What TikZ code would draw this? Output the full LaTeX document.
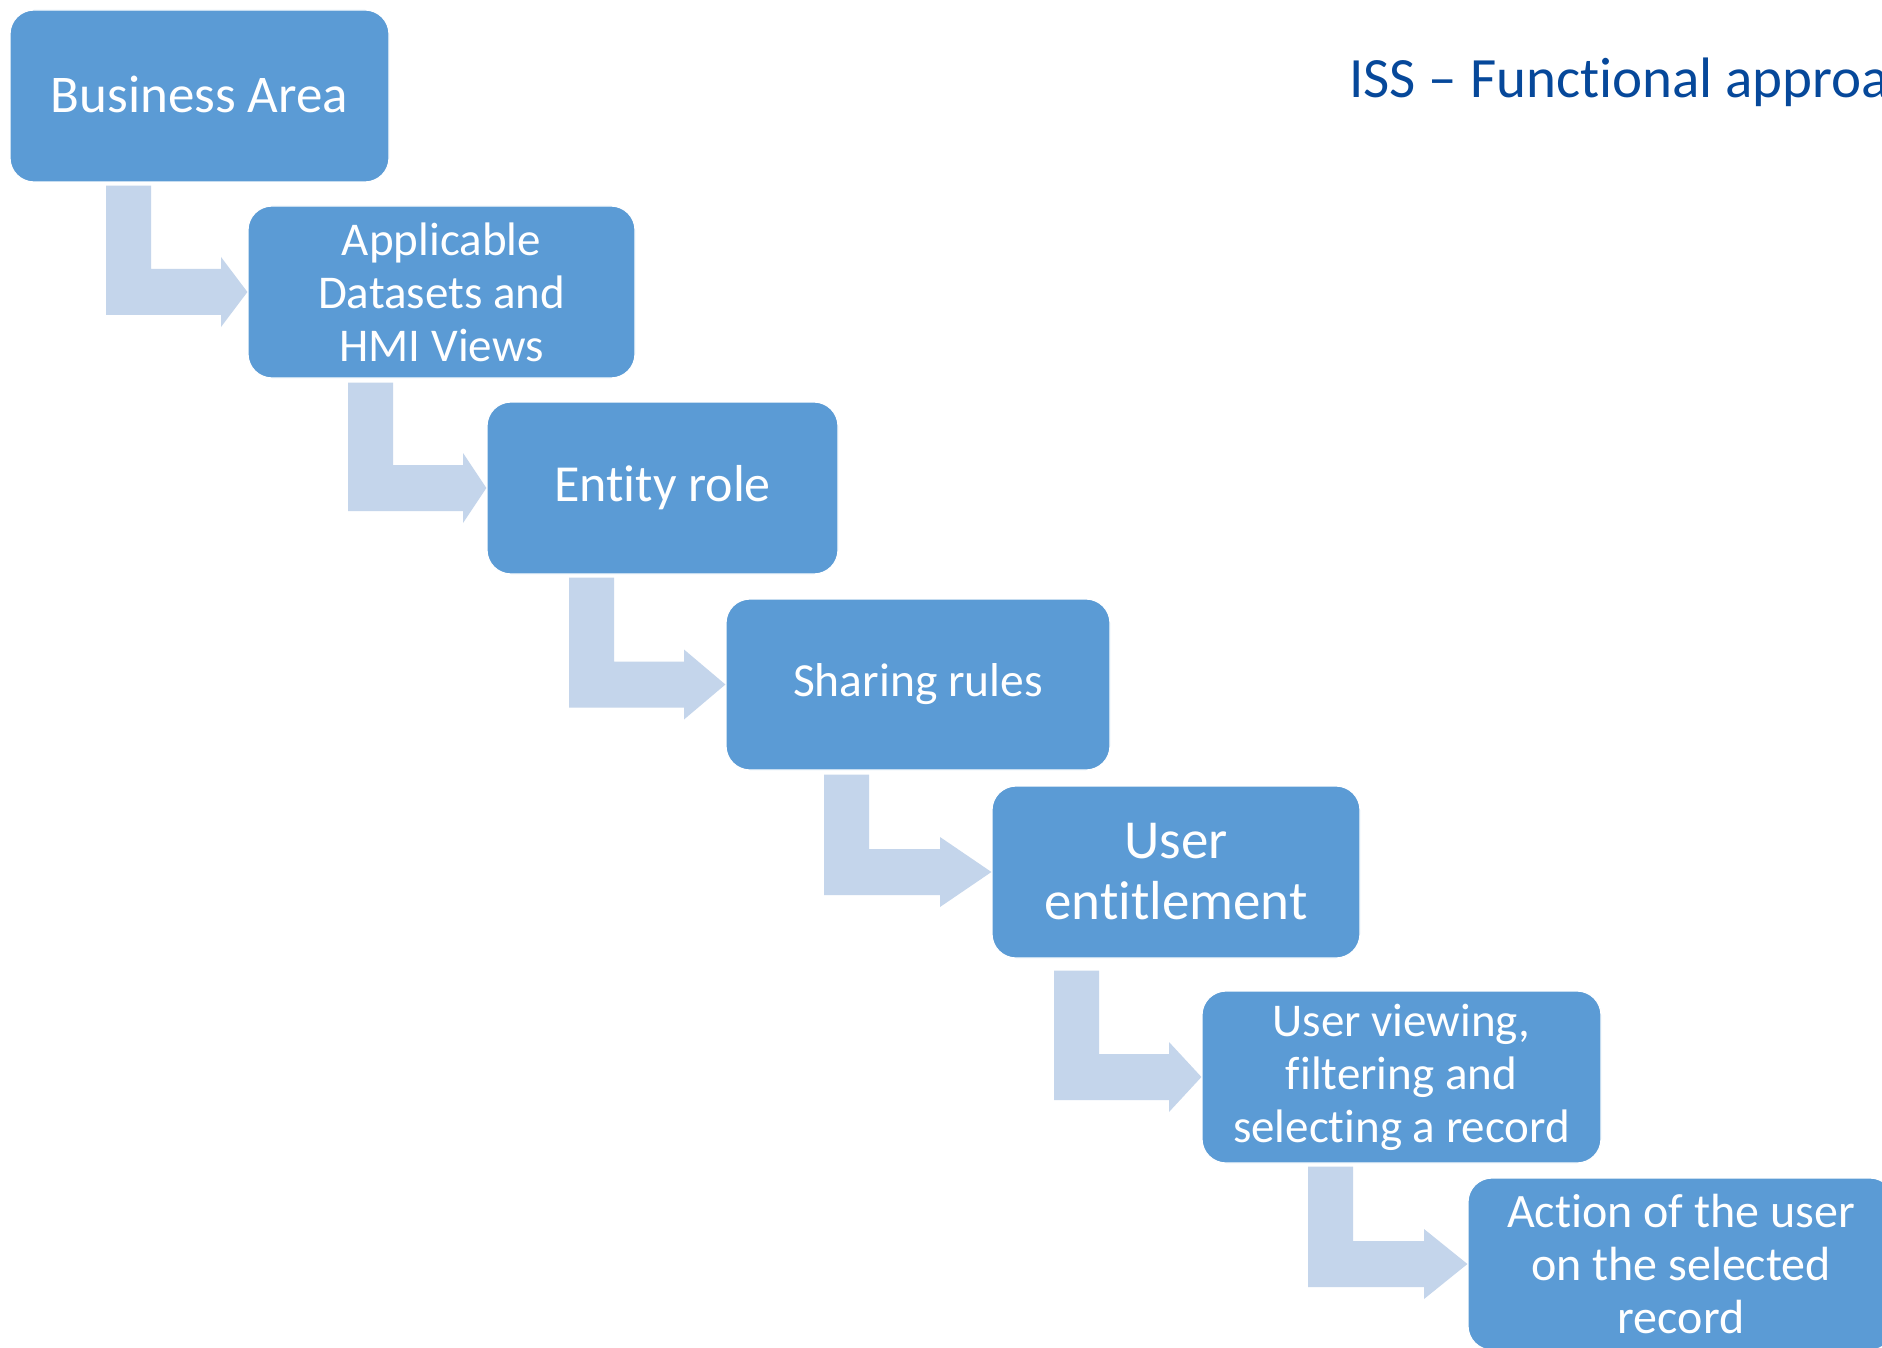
\documentclass[tikz,border=0pt]{standalone}
\usepackage{fontspec}
\setmainfont{Carlito}[Ligatures={NoCommon,NoContextual,NoRequired}]
\usetikzlibrary{calc}
\definecolor{boxblue}{RGB}{91,155,213}
\definecolor{arrowblue}{RGB}{196,213,235}
\definecolor{titleblue}{RGB}{6,72,154}
\newcommand\nti{t\kern0pt i}
\newcommand\nfi{f\kern0pt i}
\tikzset{
  stepbox/.style={rectangle, rounded corners=24pt, fill=boxblue, draw=white, line width=1.2pt,
    text=white, align=center, inner sep=0pt, anchor=center},
  arrowfill/.style={fill=arrowblue}
}
% #1 from node, #2 to node, #3 bar left x, #4 head base x, #5 gap below source
\newcommand\bentarr[5]{%
  \fill[arrowfill] let \p1=(#1.south), \p2=(#2.west) in
    (#3,\y1-#5) -- (#3+45,\y1-#5) -- (#3+45,\y2+23) -- (#4,\y2+23) -- (#4,\y2+35)
    -- (\p2) -- (#4,\y2-35) -- (#4,\y2-23) -- (#3,\y2-23) -- cycle;}
\begin{document}
\begin{tikzpicture}[x=1pt,y=1pt]
\useasboundingbox (0,0) rectangle (1882,-1348);
\clip (0,0) rectangle (1882,-1348);
\fill[white] (0,0) rectangle (1882,-1348);

\node[stepbox, minimum width=379pt, minimum height=172pt, font=\fontsize{53}{60}\selectfont] (b1) at (199.5,-96) {\raisebox{3pt}{Business Area}};
\node[stepbox, minimum width=387pt, minimum height=172pt, font=\fontsize{47}{53}\selectfont] (b2) at (441.5,-292) {Applicable\\Datasets and\\HMI Views};
\node[stepbox, minimum width=351pt, minimum height=172pt, font=\fontsize{52}{60}\selectfont] (b3) at (662.5,-488) {\raisebox{-3pt}{En\nti ty role}};
\node[stepbox, minimum width=384pt, minimum height=171pt, font=\fontsize{47.5}{55}\selectfont] (b4) at (918,-684.5) {Sharing rules};
\node[stepbox, minimum width=368pt, minimum height=172pt, font=\fontsize{55}{61}\selectfont] (b5) at (1176,-872) {User\\en\nti tlement};
\node[stepbox, minimum width=399pt, minimum height=172pt, font=\fontsize{47}{53}\selectfont] (b6) at (1401.5,-1077) {User viewing,\\\nfi ltering and\\selecting a record};
\node[stepbox, minimum width=426pt, minimum height=172pt, font=\fontsize{48}{53}\selectfont] (b7) at (1681,-1264) {Ac\nti on of the user\\on the selected\\record};

\bentarr{b1}{b2}{106}{221}{3}
\bentarr{b2}{b3}{348}{463}{4}
\bentarr{b3}{b4}{569}{684}{3}
\bentarr{b4}{b5}{824}{940}{4}
\bentarr{b5}{b6}{1054}{1169}{12}
\bentarr{b6}{b7}{1308}{1424}{3}

\node[anchor=base west, inner sep=0pt, text=titleblue, font=\fontsize{57}{68}\selectfont] (title) at (1349,-98) {ISS – Func\nti onal approach};
\end{tikzpicture}
\end{document}
